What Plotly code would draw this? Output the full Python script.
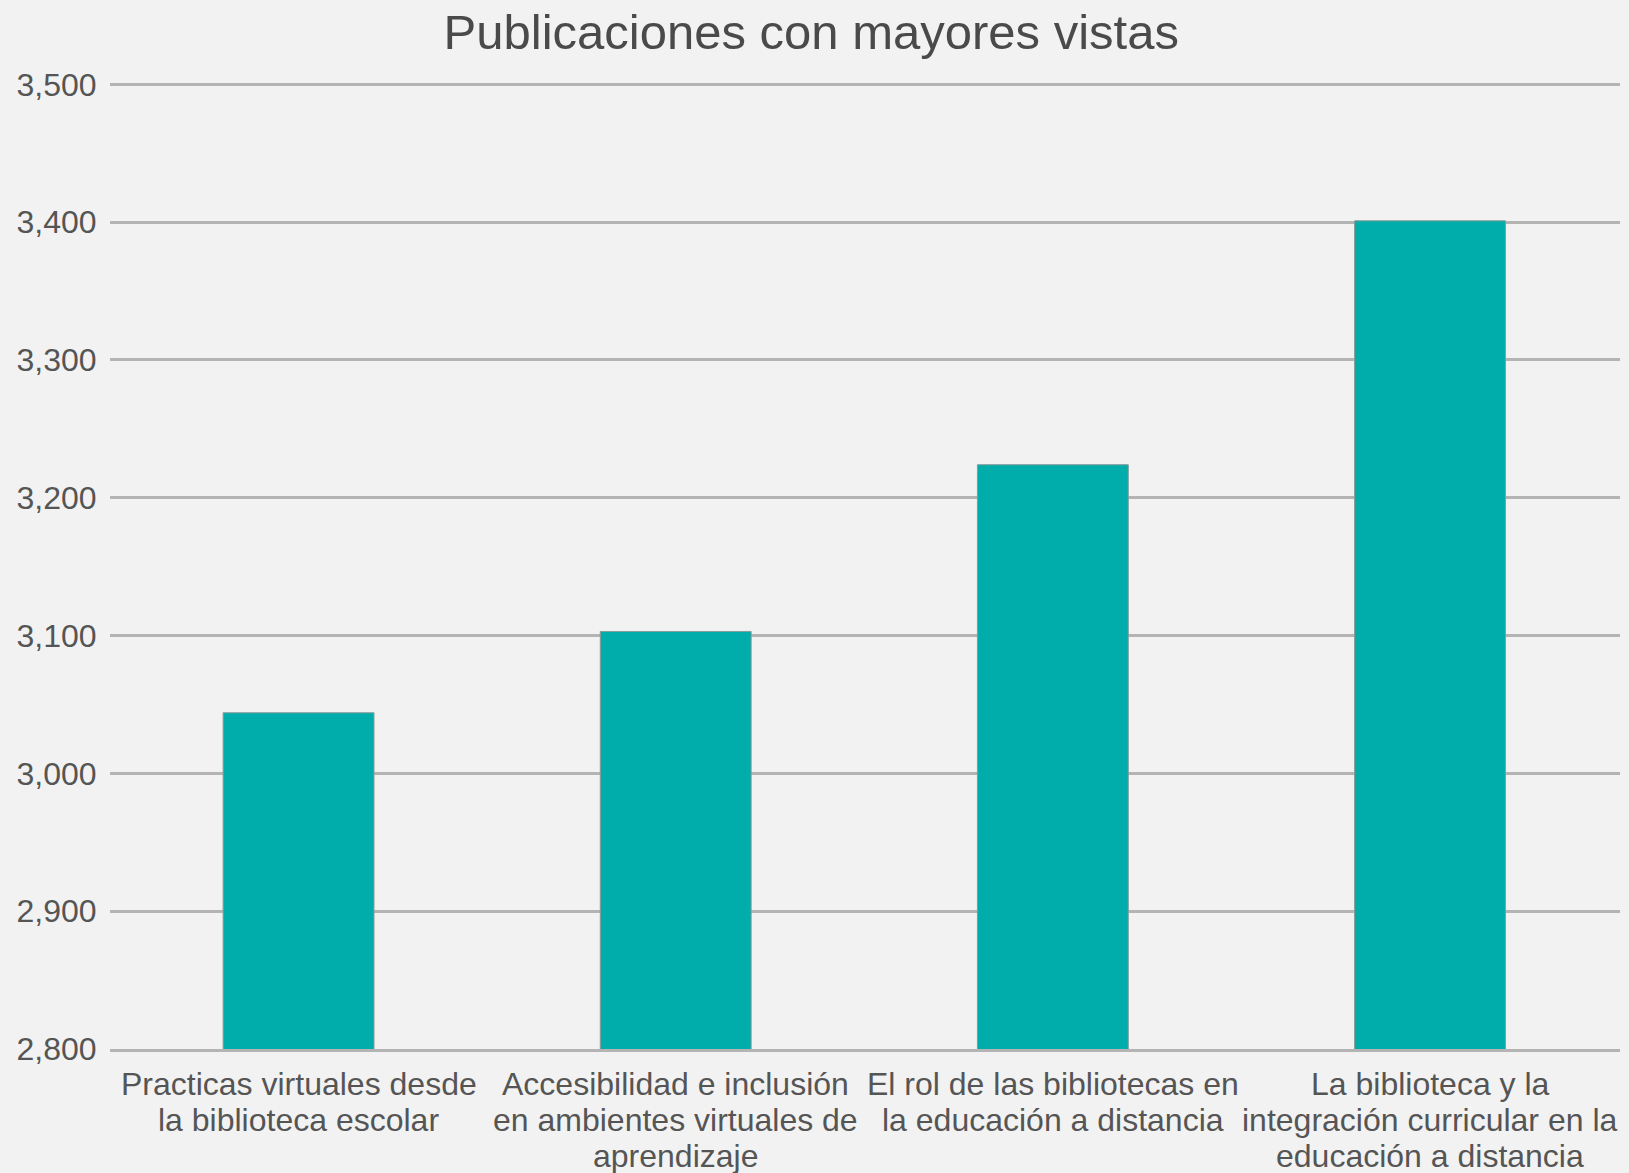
import plotly.graph_objects as go

categories = [
    "Practicas virtuales desde<br>la biblioteca escolar",
    "Accesibilidad e inclusión<br>en ambientes virtuales de<br>aprendizaje",
    "El rol de las bibliotecas en<br>la educación a distancia",
    "La biblioteca y la<br>integración curricular en la<br>educación a distancia",
]
views = [3044, 3103, 3224, 3401]
y_ticks = [2800, 2900, 3000, 3100, 3200, 3300, 3400, 3500]
y_tick_labels = ["2,800", "2,900", "3,000", "3,100", "3,200", "3,300", "3,400", "3,500"]

FONT = "Liberation Sans, Arial, sans-serif"

fig = go.Figure(
    go.Bar(
        x=categories,
        y=views,
        marker=dict(color="#00ADAA", line=dict(color="#8a9a9a", width=1)),
    )
)

# category labels, one annotation per text line for tighter line spacing
for cat in categories:
    for j, line in enumerate(cat.split("<br>")):
        fig.add_annotation(
            x=cat,
            xref="x",
            y=0,
            yref="paper",
            yanchor="middle",
            yshift=-(35 + 36 * j),
            text=line,
            showarrow=False,
            font=dict(family=FONT, size=32, color="#555555"),
        )

fig.update_layout(
    width=1629,
    height=1173,
    paper_bgcolor="#f2f2f2",
    plot_bgcolor="#f2f2f2",
    bargap=0.6,
    showlegend=False,
    margin=dict(l=110, r=9, t=83, b=124, autoexpand=False),
    title=dict(
        text="Publicaciones con mayores vistas",
        x=0.498,
        xanchor="center",
        y=0.973,
        yanchor="middle",
        font=dict(family=FONT, size=49, color="#4a4a4a"),
    ),
    font=dict(family=FONT, color="#555555"),
)

fig.update_yaxes(
    range=[2800, 3501],
    tickvals=y_ticks,
    ticktext=y_tick_labels,
    showgrid=True,
    gridcolor="#b4b4b4",
    gridwidth=3,
    zeroline=False,
    ticks="outside",
    ticklen=6,
    tickcolor="rgba(0,0,0,0)",
    tickfont=dict(family=FONT, size=32, color="#555555"),
    automargin=False,
)

fig.update_xaxes(
    showgrid=False,
    showline=True,
    linecolor="#b4b4b4",
    linewidth=3,
    showticklabels=False,
    automargin=False,
)

fig.write_html(
    "out.html",
    config={"displayModeBar": False},
    post_script="document.body.style.margin='0';document.body.style.background='#f2f2f2';",
)
